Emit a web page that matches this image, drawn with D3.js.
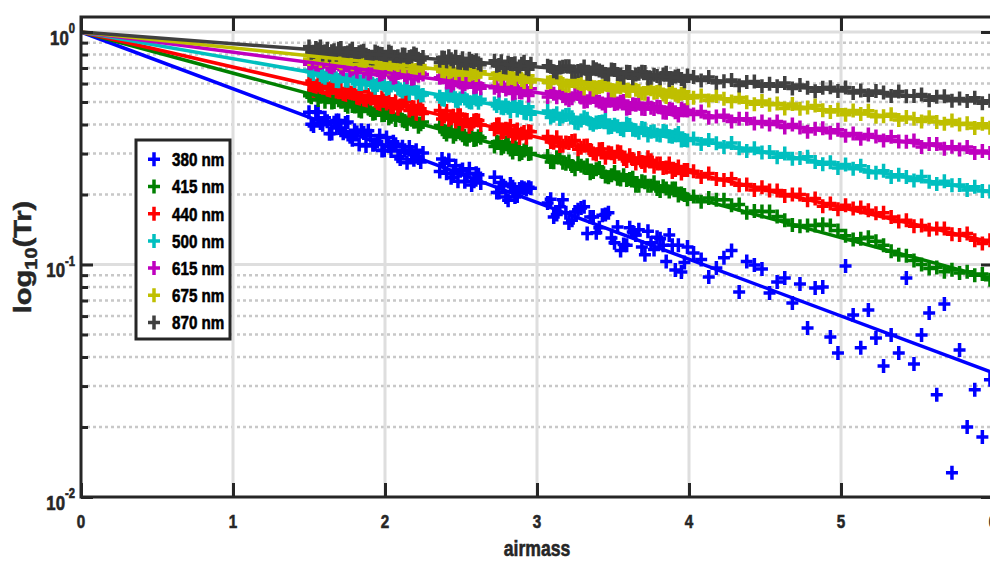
<!DOCTYPE html>
<html>
<head>
<meta charset="utf-8">
<script src="https://cdn.jsdelivr.net/npm/d3@7"></script>
<style>
  body { margin: 0; background: #fff; }
  text { font-family: "Liberation Sans", Arial, Helvetica, sans-serif; font-weight: bold; fill: #262626; stroke: #262626; stroke-width: 0.6px; }
</style>
</head>
<body>
<svg class="chart"></svg>
<script>
// airmass of each measurement (shared by all wavelengths)
var airmass = [1.50,1.515,1.53,1.545,1.56,1.575,1.59,1.605,1.62,1.635,1.65,1.665,1.68,1.695,1.71,1.725,1.74,1.755,1.77,1.785,1.80,1.815,1.83,1.845,1.86,1.875,1.89,1.905,1.92,1.935,1.95,1.965,1.98,1.995,2.01,2.025,2.04,2.055,2.07,2.085,2.10,2.115,2.13,2.145,2.16,2.175,2.19,2.205,2.22,2.235,2.25,
  2.36,2.375,2.39,2.405,2.42,2.435,2.45,2.465,2.48,2.495,2.51,2.525,2.54,2.555,2.57,2.585,2.60,2.615,2.63,
  2.72,2.735,2.75,2.765,2.78,2.795,2.81,2.825,2.84,2.855,2.87,2.885,2.90,2.915,2.93,2.945,2.96,
  3.07,3.09,3.11,3.13,3.15,3.17,3.19,3.21,3.23,3.25,3.27,3.29,3.31,3.33,3.35,3.37,3.39,3.41,3.43,3.45,3.47,3.49,3.51,3.53,3.55,3.57,3.59,3.61,3.63,3.65,3.67,3.69,3.71,3.73,3.75,3.77,3.79,3.81,3.83,3.85,3.87,3.89,3.91,3.93,3.95,3.97,3.99,
  4.03,4.08,4.13,4.18,4.23,4.28,4.33,4.38,4.43,4.48,4.53,4.58,4.63,4.68,4.73,4.78,4.83,4.88,4.93,4.98,5.03,5.08,5.13,5.18,5.23,5.28,5.33,5.38,5.43,5.48,5.53,5.58,5.63,5.68,5.73,5.78,5.83,5.88,5.93,5.98,6.03];

var tr380 = [.452,.401,.394,.454,.450,.406,.399,.428,.413,.365,.366,.407,.416,.416,.378,.367,.406,.410,.354,.344,.378,.370,.328,.378,.368,.323,.376,.358,.327,.328,.338,.359,.309,.310,.352,.323,.308,.337,.329,.292,.284,.321,.310,.274,.320,.305,.282,.310,.287,.276,.302,
  .251,.284,.272,.247,.281,.236,.245,.266,.228,.253,.256,.227,.245,.258,.220,.228,.247,.243,.224,
  .237,.204,.204,.225,.218,.195,.189,.222,.216,.195,.197,.211,.215,.213,.210,.215,.213,
  .184,.191,.160,.164,.177,.190,.167,.151,.155,.168,.172,.175,.177,.136,.160,.160,.137,.144,.163,.164,.167,.130,.124,.145,.115,.122,.121,.144,.138,.134,.141,.119,.110,.139,.124,.116,.131,.129,.121,.103,.134,.121,.0947,.121,.0928,.102,.119,
  .112,.105,.0884,.0966,.107,.115,.0762,.103,.0995,.0956,.0754,.0841,.0875,.0683,.0824,.0533,.0792,.0800,.0488,.0416,.0985,.0607,.0438,.0637,.0483,.0366,.0498,.0416,.0875,.0373,.0498,.0619,.0275,.0676,.0127,.0429,.0200,.0289,.0181,.0319,.0352];
var tr415 = [.532,.524,.553,.545,.510,.528,.530,.501,.529,.531,.498,.500,.527,.509,.501,.518,.485,.477,.504,.481,.478,.490,.458,.455,.480,.482,.470,.462,.445,.447,.467,.468,.438,.440,.459,.426,.432,.443,.418,.442,.435,.416,.413,.402,.430,.419,.412,.426,.391,.401,.410,
  .396,.393,.371,.362,.378,.379,.354,.363,.371,.376,.360,.347,.345,.358,.366,.343,.345,.356,.351,
  .322,.337,.335,.316,.321,.335,.330,.312,.303,.323,.315,.298,.302,.309,.313,.299,.300,
  .293,.276,.275,.289,.290,.274,.271,.277,.265,.257,.273,.266,.261,.267,.247,.250,.257,.260,.250,.239,.237,.242,.250,.234,.232,.242,.231,.233,.236,.218,.218,.228,.226,.218,.218,.226,.211,.207,.217,.212,.206,.212,.212,.198,.202,.199,.191,
  .196,.186,.193,.190,.190,.180,.181,.167,.170,.169,.169,.161,.155,.148,.146,.147,.147,.149,.147,.140,.133,.128,.129,.131,.126,.121,.114,.110,.109,.104,.100,.096,.097,.093,.095,.092,.093,.090,.091,.086,.086];
var tr440 = [.600,.615,.559,.568,.600,.580,.577,.603,.548,.546,.594,.580,.554,.551,.571,.524,.527,.568,.548,.545,.558,.518,.515,.555,.500,.502,.536,.517,.519,.527,.494,.481,.523,.506,.493,.516,.473,.476,.503,.467,.483,.495,.503,.501,.460,.467,.474,.444,.483,.467,.446,
  .460,.422,.433,.457,.419,.426,.436,.412,.444,.438,.401,.420,.418,.391,.402,.416,.418,.416,.398,
  .382,.400,.401,.369,.371,.384,.382,.395,.355,.365,.381,.350,.366,.371,.351,.374,.372,
  .355,.336,.334,.353,.323,.324,.335,.333,.340,.341,.313,.318,.324,.325,.311,.300,.297,.313,.314,.288,.303,.301,.290,.306,.304,.284,.279,.295,.284,.272,.287,.276,.266,.289,.281,.263,.272,.272,.260,.261,.272,.250,.255,.264,.246,.255,.255,
  .252,.238,.246,.233,.231,.234,.219,.221,.209,.215,.208,.208,.197,.200,.200,.189,.192,.178,.183,.173,.180,.174,.176,.171,.166,.167,.160,.153,.155,.146,.147,.141,.143,.143,.135,.134,.136,.127,.123,.127,.124];
var tr500 = [.685,.677,.660,.692,.688,.653,.644,.635,.652,.663,.666,.645,.616,.614,.643,.654,.619,.617,.646,.631,.616,.645,.598,.597,.624,.604,.631,.617,.590,.576,.591,.613,.604,.590,.570,.574,.589,.604,.596,.571,.563,.555,.570,.579,.543,.581,.572,.548,.551,.533,.536,
  .526,.514,.511,.541,.533,.547,.534,.506,.503,.517,.536,.518,.506,.499,.497,.520,.513,.496,.514,
  .493,.481,.499,.472,.470,.484,.472,.456,.492,.485,.460,.476,.474,.449,.447,.477,.443,
  .457,.429,.436,.447,.422,.433,.440,.442,.430,.407,.405,.416,.430,.423,.405,.399,.408,.410,.412,.418,.388,.390,.399,.393,.383,.378,.404,.398,.380,.378,.369,.386,.384,.359,.372,.374,.361,.359,.375,.373,.356,.354,.360,.368,.341,.343,.341,
  .348,.330,.343,.332,.320,.333,.316,.308,.316,.303,.305,.289,.300,.285,.287,.291,.276,.270,.275,.260,.269,.258,.266,.250,.248,.253,.238,.243,.238,.230,.239,.227,.222,.228,.219,.220,.209,.216,.207,.206,.199];
var tr615 = [.726,.732,.743,.705,.703,.737,.743,.748,.724,.708,.697,.717,.744,.742,.704,.688,.721,.719,.682,.694,.705,.668,.715,.713,.676,.695,.659,.670,.695,.706,.684,.655,.660,.671,.688,.680,.658,.636,.641,.666,.670,.675,.653,.638,.675,.629,.633,.657,.648,.666,.657,
  .636,.647,.645,.606,.610,.589,.600,.629,.627,.607,.581,.597,.607,.612,.610,.578,.582,.599,.573,
  .575,.585,.560,.588,.585,.566,.576,.592,.544,.548,.574,.551,.549,.575,.573,.533,.570,
  .525,.555,.542,.524,.549,.531,.517,.510,.519,.543,.541,.523,.501,.504,.522,.525,.508,.501,.493,.481,.514,.507,.490,.493,.501,.505,.468,.471,.489,.487,.494,.468,.466,.493,.472,.466,.478,.476,.451,.449,.466,.464,.452,.437,.467,.461,.459,
  .442,.455,.428,.433,.438,.412,.424,.424,.404,.412,.400,.412,.388,.400,.388,.372,.384,.385,.369,.380,.358,.366,.347,.362,.355,.341,.354,.338,.337,.341,.320,.330,.330,.315,.321,.312,.320,.302,.308,.302,.305];
var tr675 = [.766,.812,.803,.769,.775,.750,.811,.786,.760,.805,.773,.763,.792,.744,.734,.778,.770,.760,.743,.726,.778,.776,.743,.734,.725,.752,.759,.772,.770,.716,.722,.728,.726,.746,.745,.699,.704,.746,.730,.721,.742,.704,.702,.743,.713,.704,.682,.687,.720,.718,.696,
  .712,.676,.674,.707,.657,.676,.688,.653,.692,.691,.655,.701,.699,.651,.662,.668,.653,.671,.675,
  .633,.665,.657,.630,.666,.671,.630,.636,.634,.626,.662,.642,.621,.608,.644,.649,.609,
  .606,.610,.632,.638,.605,.597,.589,.587,.615,.613,.605,.598,.572,.612,.610,.566,.576,.580,.584,.594,.592,.562,.560,.581,.579,.595,.559,.557,.589,.565,.557,.544,.542,.575,.567,.548,.552,.562,.538,.525,.561,.549,.537,.529,.543,.553,.519,
  .521,.533,.508,.530,.516,.502,.523,.499,.489,.505,.487,.493,.469,.490,.467,.473,.483,.461,.453,.463,.441,.460,.444,.458,.432,.434,.443,.418,.431,.424,.412,.430,.410,.403,.416,.400,.405,.386,.403,.387,.389];
var tr870 = [.866,.815,.821,.854,.843,.867,.800,.824,.847,.796,.827,.834,.799,.848,.854,.804,.810,.817,.832,.848,.789,.788,.818,.825,.831,.798,.788,.771,.770,.825,.815,.806,.804,.779,.777,.824,.814,.765,.780,.787,.761,.800,.798,.750,.780,.787,.808,.799,.759,.758,.780,
  .739,.776,.774,.735,.787,.764,.746,.783,.736,.735,.771,.718,.716,.767,.751,.743,.756,.733,.723,
  .753,.715,.721,.749,.704,.696,.737,.729,.728,.734,.689,.710,.730,.744,.699,.691,.731,
  .716,.708,.678,.670,.703,.708,.713,.712,.675,.674,.679,.685,.710,.662,.660,.706,.691,.683,.674,.659,.657,.689,.687,.659,.657,.636,.674,.673,.632,.657,.662,.674,.672,.631,.636,.654,.646,.632,.656,.668,.621,.633,.643,.649,.628,.614,.650,
  .641,.618,.640,.605,.614,.622,.589,.609,.612,.584,.599,.584,.604,.571,.592,.576,.556,.576,.578,.557,.577,.546,.560,.534,.558,.549,.530,.554,.529,.531,.539,.509,.527,.529,.506,.518,.505,.522,.494,.506,.499];

var labels = ["380 nm", "415 nm", "440 nm", "500 nm", "615 nm", "675 nm", "870 nm"];
var colors = ["#0000ff", "#008000", "#ff0000", "#00bfbf", "#bf00bf", "#bfbf00", "#404040"];
// fitted transmission at airmass 6 (lines start at 1 for airmass 0)
var fitAt6 = [0.0342, 0.0868, 0.1245, 0.2045, 0.3006, 0.3903, 0.5005];

var xTicks = [0, 1, 2, 3, 4, 5, 6];
var yMajor = [0.01, 0.1, 1];
var yMinor = [0.02,0.03,0.04,0.05,0.06,0.07,0.08,0.09,0.2,0.3,0.4,0.5,0.6,0.7,0.8,0.9];

var series = [tr380, tr415, tr440, tr500, tr615, tr675, tr870];

var width = 990, height = 563;
var squeeze = "scale(0.8,1)";   // the figure's lettering is narrow
var x = d3.scaleLinear().domain([0, 6]).range([81, 993]);
var y = d3.scaleLog().domain([0.01, 1.16]).range([497, 17]);

var svg = d3.select(".chart").attr("width", width).attr("height", height);

// grid
svg.append("g").selectAll("line").data(yMinor).join("line")
    .attr("x1", x(0)).attr("x2", x(6))
    .attr("y1", d => y(d)).attr("y2", d => y(d))
    .attr("stroke", "#c8c8c8").attr("stroke-width", 2.5).attr("stroke-dasharray", "3,3");
svg.append("g").selectAll("line").data(yMajor.slice(1)).join("line")
    .attr("x1", x(0)).attr("x2", x(6))
    .attr("y1", d => y(d)).attr("y2", d => y(d))
    .attr("stroke", "#dedede").attr("stroke-width", 3);
svg.append("g").selectAll("line").data(xTicks.slice(1)).join("line")
    .attr("x1", d => x(d)).attr("x2", d => x(d))
    .attr("y1", y.range()[0]).attr("y2", y.range()[1])
    .attr("stroke", "#dedede").attr("stroke-width", 3);

// data + fit lines
var plus = "M-6,0H6M0,-7V7";
var line = d3.line().x(d => x(d[0])).y(d => y(d[1]));

series.forEach(function(vals, i) {
  svg.append("g").selectAll("path").data(vals).join("path")
      .attr("d", plus)
      .attr("transform", (d, j) => "translate(" + x(airmass[j]) + "," + y(d) + ")")
      .attr("stroke", colors[i]).attr("stroke-width", 3.5).attr("fill", "none");
});
series.forEach(function(vals, i) {
  svg.append("path")
      .attr("d", line([[0, 1], [6, fitAt6[i]]]))
      .attr("stroke", colors[i]).attr("stroke-width", 3.5).attr("fill", "none");
});

// axes frame and ticks
var styleAxis = g => {
  g.select(".domain").remove();
  g.selectAll(".tick line").attr("stroke", "#262626").attr("stroke-width", 3);
};

svg.append("g").attr("transform", "translate(0," + y.range()[0] + ")")
    .call(d3.axisBottom(x).tickValues(xTicks).tickSize(-14).tickFormat(""))
    .call(styleAxis);
svg.append("g").attr("transform", "translate(0," + y.range()[1] + ")")
    .call(d3.axisTop(x).tickValues(xTicks).tickSize(-14).tickFormat(""))
    .call(styleAxis);
svg.append("g").attr("transform", "translate(" + x(0) + ",0)")
    .call(d3.axisLeft(y).tickValues(yMajor).tickSize(-12).tickFormat(""))
    .call(styleAxis);
svg.append("g").attr("transform", "translate(" + x(0) + ",0)")
    .call(d3.axisLeft(y).tickValues(yMinor).tickSize(-7).tickFormat(""))
    .call(styleAxis);
svg.append("g").attr("transform", "translate(" + x(6) + ",0)")
    .call(d3.axisRight(y).tickValues(yMajor).tickSize(-12).tickFormat(""))
    .call(styleAxis);

svg.append("rect")
    .attr("x", x(0)).attr("y", y.range()[1])
    .attr("width", x(6) - x(0)).attr("height", y.range()[0] - y.range()[1])
    .attr("fill", "none").attr("stroke", "#262626").attr("stroke-width", 3);

// x tick labels
svg.append("g").selectAll("text").data(xTicks).join("text")
    .attr("transform", d => "translate(" + x(d) + ",528) " + squeeze)
    .attr("text-anchor", "middle").attr("font-size", 19)
    .text(d => d);

// y tick labels 10^n
var yLab = svg.append("g").selectAll("text").data(yMajor).join("text")
    .attr("transform", d => "translate(75," + (y(d) + 13) + ") " + squeeze)
    .attr("text-anchor", "end").attr("font-size", 21);
yLab.append("tspan").text("10");
yLab.append("tspan").attr("dy", -12).attr("font-size", 14)
    .text(d => Math.round(Math.log10(d)));

// axis titles
svg.append("text")
    .attr("transform", "translate(" + (x(0) + x(6)) / 2 + ",556) " + squeeze)
    .attr("text-anchor", "middle").attr("font-size", 22)
    .text("airmass");

var yt = svg.append("text")
    .attr("transform", "translate(31," + (y.range()[0] + y.range()[1]) / 2 + ") " + squeeze + " rotate(-90)")
    .attr("text-anchor", "middle").attr("font-size", 29);
yt.append("tspan").text("log");
yt.append("tspan").attr("dy", 7).attr("font-size", 20).text("10");
yt.append("tspan").attr("dy", -7).text("(Tr)");

// legend
var legend = svg.append("g");
legend.append("rect")
    .attr("x", 136).attr("y", 140).attr("width", 94).attr("height", 199)
    .attr("fill", "#fff").attr("stroke", "#262626").attr("stroke-width", 3);
var item = legend.selectAll("g.item").data(labels).join("g")
    .attr("class", "item")
    .attr("transform", (d, i) => "translate(154," + (159.3 + i * 27.2) + ")");
item.append("path").attr("d", plus)
    .attr("stroke", (d, i) => colors[i]).attr("stroke-width", 3.5).attr("fill", "none");
item.append("text")
    .attr("transform", "translate(18,0) " + squeeze)
    .attr("dy", "0.36em").attr("font-size", 19).style("fill", "#000").style("stroke", "#000")
    .text(d => d);
</script>
</body>
</html>
